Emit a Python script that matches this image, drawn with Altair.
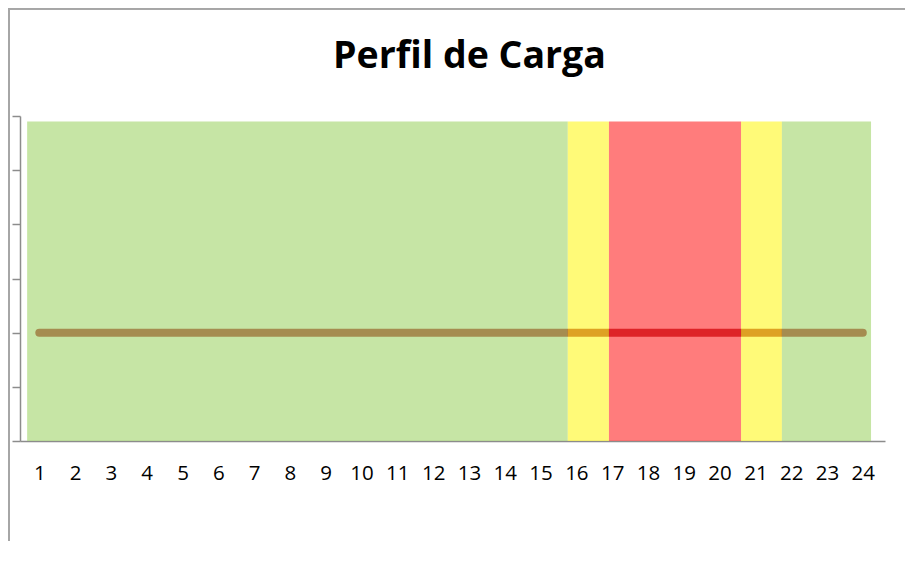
import altair as alt
import pandas as pd

# Data
hours = list(range(1, 25))
load = [2] * 24

band_names = ["Valle", "Llano", "Punta", "Llano ", "Valle "]
band_start = [0.66, 15.76, 16.91, 20.60, 21.74]
band_end = [15.76, 16.91, 20.60, 21.74, 24.23]
band_top = [5.9] * 5
band_colors = ["#a0d469", "#fff71e", "#ff2525", "#fff71e", "#a0d469"]

line_df = pd.DataFrame({"hora": hours, "carga": load})
band_df = pd.DataFrame({"banda": band_names, "x0": band_start, "x1": band_end,
                        "y0": [0] * 5, "y1": band_top})

xscale = alt.Scale(domain=[0.461, 24.62], nice=False, zero=False)
yscale = alt.Scale(domain=[0, 6], nice=False)

xaxis = alt.Axis(values=hours, title=None, grid=False, ticks=False,
                 domainColor="#8c8c8c", domainWidth=1.5,
                 labelFont="Open Sans", labelFontSize=20.5, labelColor="#000000",
                 labelPadding=22, labelBaseline="top", labelFlush=False,
                 labelOverlap=False)
yaxis = alt.Axis(values=[0, 1, 2, 3, 4, 5, 6], labels=False, title=None,
                 grid=False, tickSize=8, tickColor="#8c8c8c", tickWidth=1.5,
                 domainColor="#8c8c8c", domainWidth=1.5)

line = alt.Chart(line_df).mark_line(
    color="#ac212b", strokeWidth=8, strokeCap="round"
).encode(
    x=alt.X("hora:Q", scale=xscale, axis=xaxis),
    y=alt.Y("carga:Q", scale=yscale, axis=yaxis),
)

bands = alt.Chart(band_df).mark_rect(opacity=0.6).encode(
    x=alt.X("x0:Q", scale=xscale, axis=xaxis),
    x2="x1:Q",
    y=alt.Y("y0:Q", scale=yscale, axis=yaxis),
    y2="y1:Q",
    color=alt.Color("banda:N", scale=alt.Scale(domain=band_names, range=band_colors),
                    legend=None),
)

border_top = alt.Chart(line_df).mark_rule(color="#a6a6a6", strokeWidth=1.5).encode(
    x=alt.value(-11), x2=alt.value(905), y=alt.value(-107.5)
)
border_left = alt.Chart(line_df).mark_rule(color="#a6a6a6", strokeWidth=1.5).encode(
    x=alt.value(-11), y=alt.value(-107.5), y2=alt.value(450)
)

chart = alt.layer(line, bands, border_top, border_left).properties(
    width=865, height=325,
    autosize=alt.AutoSizeParams(type="none"),
    padding={"left": 12, "top": 108, "right": 20, "bottom": 100},
    title=alt.TitleParams("Perfil de Carga", font="Open Sans", fontSize=37.5, fontWeight="bold",
                          color="#000000", anchor="middle", dx=17, offset=0, dy=68),
).configure_view(stroke=None).configure_axis(labelOverlap=False)

chart.save("out.html", embed_options={"renderer": "svg", "actions": False})
